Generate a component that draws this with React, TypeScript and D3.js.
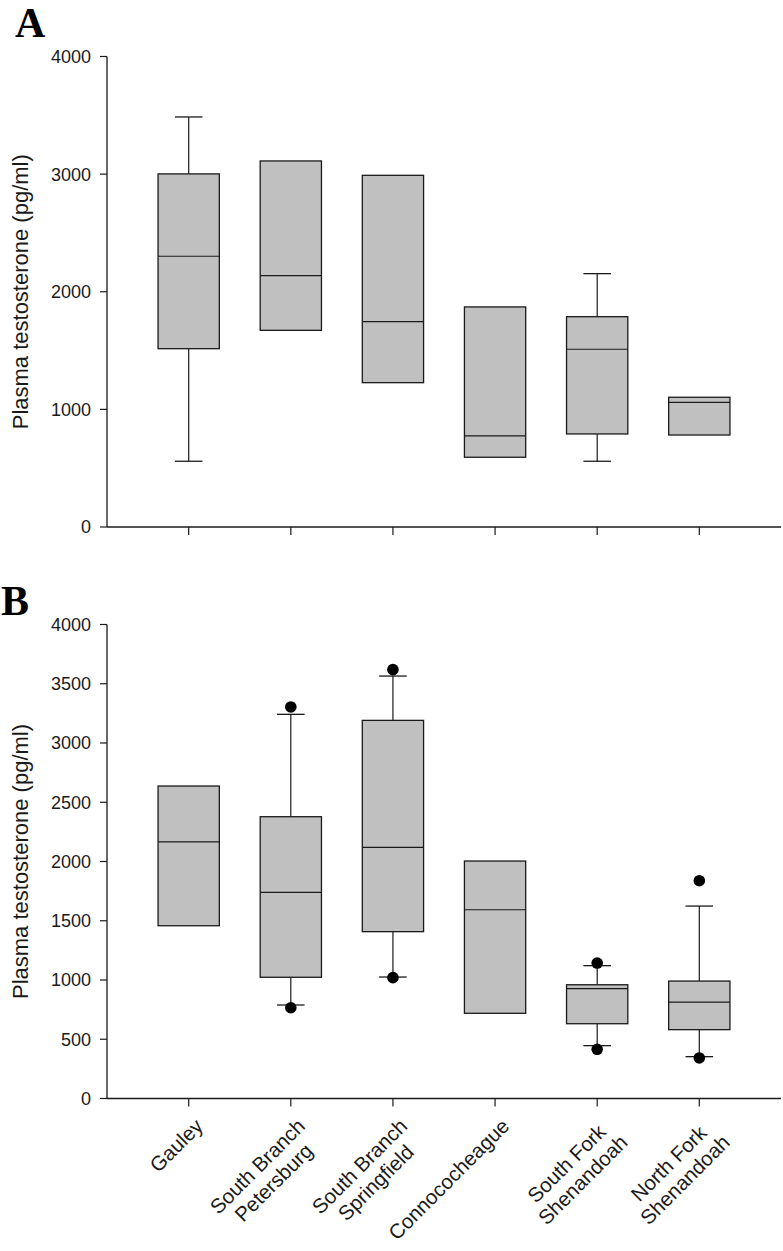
import React from "react";
import * as d3 from "d3";

const categories = [
  "Gauley",
  "South Branch Petersburg",
  "South Branch Springfield",
  "Connococheague",
  "South Fork Shenandoah",
  "North Fork Shenandoah",
];
const categoryLines = [
  ["Gauley"],
  ["South Branch", "Petersburg"],
  ["South Branch", "Springfield"],
  ["Connococheague"],
  ["South Fork", "Shenandoah"],
  ["North Fork", "Shenandoah"],
];

// Panel A
const q1A = [1516, 1672, 1227, 593, 791, 782];
const medA = [2302, 2137, 1746, 774, 1511, 1060];
const q3A = [3002, 3112, 2990, 1871, 1788, 1103];
const whiskerLowA: (number | null)[] = [559, null, null, null, 559, null];
const whiskerHighA: (number | null)[] = [3486, null, null, null, 2154, null];
const outlierLowA: (number | null)[] = [null, null, null, null, null, null];
const outlierHighA: (number | null)[] = [null, null, null, null, null, null];
const ticksA = [0, 1000, 2000, 3000, 4000];

// Panel B
const q1B = [1458, 1023, 1408, 719, 631, 581];
const medB = [2165, 1740, 2120, 1593, 927, 814];
const q3B = [2637, 2378, 3191, 2004, 960, 991];
const whiskerLowB: (number | null)[] = [null, 789, 1025, null, 446, 353];
const whiskerHighB: (number | null)[] = [null, 3242, 3565, null, 1121, 1624];
const outlierLowB: (number | null)[] = [null, 766, 1020, null, 415, 342];
const outlierHighB: (number | null)[] = [null, 3304, 3619, null, 1143, 1838];
const ticksB = [0, 500, 1000, 1500, 2000, 2500, 3000, 3500, 4000];

const yLabel = "Plasma testosterone (pg/ml)";
const SANS = "'Liberation Sans', Arial, Helvetica, sans-serif";
const INK = "#1a1a1a";

const xLeft = 107;
const xRight = 781;
const x = d3.scalePoint<string>().domain(categories).range([xLeft, xRight]).padding(0.8);

function measure(text: string, font: string): number {
  const c = document.createElement("canvas").getContext("2d");
  if (!c) return text.length * 10;
  c.font = font;
  return c.measureText(text).width;
}

type PanelProps = {
  top: number;
  bottom: number;
  letter: string;
  letterX: number;
  letterY: number;
  ticks: number[];
  q1: number[];
  med: number[];
  q3: number[];
  wLow: (number | null)[];
  wHigh: (number | null)[];
  oLow: (number | null)[];
  oHigh: (number | null)[];
  showLabels: boolean;
};

function Panel(p: PanelProps) {
  const y = d3.scaleLinear().domain([0, 4000]).range([p.bottom, p.top]);
  const step = x.step();
  const boxW = step * 0.6;
  const capW = step * 0.27;
  const labelSize = 20.5;
  const labelFont = `${labelSize}px ${SANS}`;
  return (
    <g>
      <text x={p.letterX} y={p.letterY} fontFamily="'Liberation Serif', 'Times New Roman', serif" fontWeight="bold" fontSize={42} fill="#000">
        {p.letter}
      </text>
      {/* axes */}
      <line x1={xLeft} x2={xLeft} y1={y(4000)} y2={y(0)} stroke={INK} strokeWidth={1.3} />
      <line x1={xLeft} x2={xRight} y1={y(0)} y2={y(0)} stroke={INK} strokeWidth={1.3} />
      {p.ticks.map((t) => (
        <g key={t}>
          <line x1={xLeft - 7} x2={xLeft} y1={y(t)} y2={y(t)} stroke={INK} strokeWidth={1.2} />
          <text x={xLeft - 16} y={y(t)} dy="0.36em" textAnchor="end" fontFamily={SANS} fontSize={18} fill={INK}>
            {t}
          </text>
        </g>
      ))}
      {categories.map((c) => (
        <line key={c} x1={x(c)} x2={x(c)} y1={y(0)} y2={y(0) + 8} stroke={INK} strokeWidth={1.2} />
      ))}
      <text
        transform={`translate(28, ${(y(0) + y(4000)) / 2}) rotate(-90)`}
        textAnchor="middle"
        fontFamily={SANS}
        fontSize={22}
        fill={INK}
      >
        {yLabel}
      </text>
      {/* boxes */}
      {categories.map((c, i) => {
        const cx = x(c) as number;
        return (
          <g key={c}>
            {p.wHigh[i] != null && (
              <g>
                <line x1={cx} x2={cx} y1={y(p.q3[i])} y2={y(p.wHigh[i] as number)} stroke={INK} strokeWidth={1.2} />
                <line x1={cx - capW / 2} x2={cx + capW / 2} y1={y(p.wHigh[i] as number)} y2={y(p.wHigh[i] as number)} stroke={INK} strokeWidth={1.3} />
              </g>
            )}
            {p.wLow[i] != null && (
              <g>
                <line x1={cx} x2={cx} y1={y(p.q1[i])} y2={y(p.wLow[i] as number)} stroke={INK} strokeWidth={1.2} />
                <line x1={cx - capW / 2} x2={cx + capW / 2} y1={y(p.wLow[i] as number)} y2={y(p.wLow[i] as number)} stroke={INK} strokeWidth={1.3} />
              </g>
            )}
            <rect
              x={cx - boxW / 2}
              y={y(p.q3[i])}
              width={boxW}
              height={y(p.q1[i]) - y(p.q3[i])}
              fill="#c0c0c0"
              stroke={INK}
              strokeWidth={1.3}
            />
            <line x1={cx - boxW / 2} x2={cx + boxW / 2} y1={y(p.med[i])} y2={y(p.med[i])} stroke={INK} strokeWidth={1.2} />
            {p.oHigh[i] != null && <circle cx={cx} cy={y(p.oHigh[i] as number)} r={5.8} fill="#000" />}
            {p.oLow[i] != null && <circle cx={cx} cy={y(p.oLow[i] as number)} r={5.8} fill="#000" />}
          </g>
        );
      })}
      {p.showLabels &&
        categories.map((c, i) => {
          const lines = categoryLines[i];
          const W = Math.max(...lines.map((l) => measure(l, labelFont)));
          return (
            <g key={c} transform={`translate(${(x(c) as number) + 15.5}, ${y(0) + 29}) rotate(-45)`}>
              {lines.map((l, j) => (
                <text key={j} x={-W / 2} y={j * labelSize * 1.12} textAnchor="middle" fontFamily={SANS} fontSize={labelSize} fill={INK}>
                  {l}
                </text>
              ))}
            </g>
          );
        })}
    </g>
  );
}

export default function App() {
  return (
    <svg
      width={783}
      height={1251}
      viewBox="0 0 783 1251"
      style={{ position: "absolute", left: 0, top: 0, background: "#fff" }}
    >
      <rect x={0} y={0} width={783} height={1251} fill="#fff" />
      <Panel
        top={56.5}
        bottom={527}
        letter="A"
        letterX={15}
        letterY={37}
        ticks={ticksA}
        q1={q1A}
        med={medA}
        q3={q3A}
        wLow={whiskerLowA}
        wHigh={whiskerHighA}
        oLow={outlierLowA}
        oHigh={outlierHighA}
        showLabels={false}
      />
      <Panel
        top={624.5}
        bottom={1098.5}
        letter="B"
        letterX={1}
        letterY={615}
        ticks={ticksB}
        q1={q1B}
        med={medB}
        q3={q3B}
        wLow={whiskerLowB}
        wHigh={whiskerHighB}
        oLow={outlierLowB}
        oHigh={outlierHighB}
        showLabels={true}
      />
    </svg>
  );
}
